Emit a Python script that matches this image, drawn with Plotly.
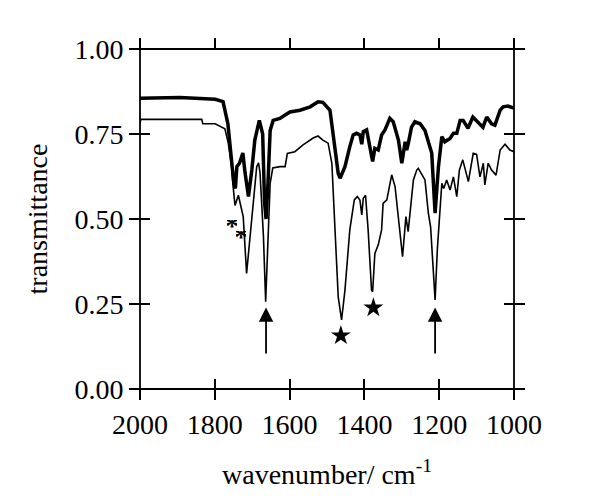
import plotly.graph_objects as go

# Thick (upper) spectrum
thick_wn = [2000, 1893, 1799, 1778, 1765, 1755, 1749, 1745, 1741, 1734, 1725, 1719, 1710,
            1701, 1693, 1681, 1672, 1667, 1663, 1658, 1652, 1644, 1626, 1612, 1599, 1572,
            1545, 1524, 1511, 1492, 1481, 1470, 1465, 1452, 1439, 1430, 1421, 1412, 1407,
            1403, 1394, 1385, 1378, 1372, 1363, 1354, 1345, 1332, 1323, 1309, 1300, 1291,
            1287, 1283, 1274, 1265, 1251, 1238, 1226, 1220, 1211, 1202, 1193, 1185, 1171,
            1162, 1153, 1144, 1136, 1123, 1110, 1096, 1083, 1073, 1060, 1051, 1037, 1029,
            1016, 1000]
thick_T = [0.855, 0.857, 0.852, 0.845, 0.78, 0.683, 0.605, 0.59, 0.654, 0.664, 0.694, 0.635,
           0.566, 0.644, 0.732, 0.79, 0.75, 0.55, 0.50, 0.60, 0.76, 0.79, 0.796, 0.806, 0.815,
           0.82, 0.83, 0.845, 0.843, 0.82, 0.732, 0.634, 0.62, 0.654, 0.713, 0.747, 0.752,
           0.747, 0.72, 0.757, 0.762, 0.713, 0.669, 0.708, 0.703, 0.747, 0.762, 0.796, 0.786,
           0.732, 0.664, 0.727, 0.703, 0.72, 0.77, 0.786, 0.78, 0.76, 0.713, 0.694, 0.517,
           0.654, 0.742, 0.727, 0.737, 0.752, 0.752, 0.79, 0.79, 0.767, 0.80, 0.786, 0.77,
           0.80, 0.78, 0.776, 0.82, 0.83, 0.832, 0.826]

# Thin (lower) spectrum
thin_wn = [2000, 1998, 1835, 1832, 1799, 1786, 1773, 1764, 1755, 1751, 1746, 1737, 1730,
           1724, 1715, 1701, 1693, 1688, 1683, 1679, 1670, 1664, 1657, 1652, 1645, 1626,
           1612, 1606, 1586, 1564, 1537, 1524, 1511, 1497, 1487, 1479, 1470, 1461, 1452,
           1439, 1427, 1419, 1412, 1407, 1403, 1397, 1390, 1381, 1378, 1372, 1363, 1354,
           1350, 1340, 1327, 1318, 1305, 1298, 1289, 1283, 1269, 1260, 1256, 1247, 1238,
           1229, 1223, 1211, 1205, 1193, 1188, 1180, 1171, 1162, 1153, 1146, 1137, 1122,
           1109, 1100, 1091, 1082, 1078, 1069, 1060, 1048, 1037, 1024, 1011, 1000]
thin_T = [0.78, 0.793, 0.793, 0.78, 0.78, 0.773, 0.765, 0.723, 0.654, 0.595, 0.54, 0.57,
          0.53, 0.507, 0.34, 0.517, 0.595, 0.654, 0.665, 0.635, 0.45, 0.257, 0.488, 0.605,
          0.65, 0.654, 0.654, 0.693, 0.698, 0.718, 0.738, 0.744, 0.732, 0.723, 0.664, 0.487,
          0.271, 0.203, 0.291, 0.468, 0.556, 0.566, 0.556, 0.512, 0.561, 0.57, 0.468, 0.291,
          0.286, 0.399, 0.424, 0.468, 0.546, 0.556, 0.63, 0.595, 0.468, 0.389, 0.507, 0.463,
          0.615, 0.644, 0.649, 0.63, 0.615, 0.517, 0.477, 0.262, 0.41, 0.605, 0.59, 0.615,
          0.585, 0.624, 0.566, 0.644, 0.674, 0.61, 0.693, 0.69, 0.624, 0.664, 0.60, 0.664,
          0.644, 0.629, 0.703, 0.72, 0.703, 0.698]

# Annotation markers
star_wn = [1463, 1376]
star_T = [0.157, 0.239]
asterisk_wn = [1754, 1731]
asterisk_T = [0.485, 0.451]
arrow_wn = [1663, 1211]
arrow_head_T = 0.24
arrow_tail_T = 0.10

x_ticks = [2000, 1800, 1600, 1400, 1200, 1000]
y_ticks = [0.0, 0.25, 0.5, 0.75, 1.0]

FONT = "Liberation Serif"

fig = go.Figure()
fig.add_trace(go.Scatter(x=thick_wn, y=thick_T, mode="lines",
                         line=dict(color="black", width=3.5), showlegend=False))
fig.add_trace(go.Scatter(x=thin_wn, y=thin_T, mode="lines",
                         line=dict(color="black", width=1.6), showlegend=False))
fig.add_trace(go.Scatter(x=star_wn, y=star_T, mode="markers",
                         marker=dict(symbol="star", size=15, color="black"),
                         showlegend=False))
# dummy trace for overlay axes (inner ticks)
fig.add_trace(go.Scatter(x=[], y=[], xaxis="x2", yaxis="y2", showlegend=False))

for wx, wy in zip(asterisk_wn, asterisk_T):
    fig.add_annotation(x=wx, y=wy, text="<b>*</b>", showarrow=False, yshift=-1,
                       width=10, height=11,
                       font=dict(family=FONT, size=27, color="black"))
for wx in arrow_wn:
    fig.add_annotation(x=wx, y=arrow_head_T, ax=wx, ay=arrow_tail_T,
                       axref="x", ayref="y", text="", showarrow=True,
                       arrowhead=2, arrowsize=1.6, arrowwidth=1.8, arrowcolor="black")

# extended frame lines (crossing corners)
ex, ey = 10 / 374, 10 / 340
frame = [
    dict(x0=-ex, x1=1 + ex, y0=0, y1=0),
    dict(x0=-ex, x1=1 + ex, y0=1, y1=1),
    dict(x0=0, x1=0, y0=-ey, y1=1 + ey),
    dict(x0=1, x1=1, y0=-ey, y1=1 + ey),
]
for f in frame:
    fig.add_shape(type="line", xref="paper", yref="paper",
                  line=dict(color="black", width=1.8), **f)

tickfont = dict(family=FONT, size=28, color="black")
fig.update_layout(
    width=592, height=495, autosize=False,
    margin=dict(l=132, r=86, t=41, b=114),
    paper_bgcolor="white", plot_bgcolor="white",
    font=dict(family=FONT, color="black"),
    xaxis=dict(range=[2000, 1000], tickvals=x_ticks, ticks="outside", ticklen=10,
               tickwidth=1.6, tickcolor="black", showline=False, mirror="ticks",
               showgrid=False, zeroline=False, tickfont=tickfont,
               title=dict(text="wavenumber/ cm<sup>-1</sup>",
                          font=dict(family=FONT, size=28, color="black"), standoff=25)),
    yaxis=dict(range=[0, 1], tickvals=y_ticks, tickformat=".2f", ticks="outside",
               ticklen=10, tickwidth=1.6, tickcolor="black", showline=False,
               mirror="ticks", showgrid=False, zeroline=False, tickfont=tickfont,
               title=dict(text="transmittance",
                          font=dict(family=FONT, size=28, color="black"), standoff=18)),
    xaxis2=dict(range=[2000, 1000], tickvals=x_ticks, ticks="inside", ticklen=10,
                tickwidth=1.6, tickcolor="black", showticklabels=False, showgrid=False,
                zeroline=False, overlaying="x", anchor="y2", side="bottom"),
    yaxis2=dict(range=[0, 1], tickvals=y_ticks, ticks="inside", ticklen=10,
                tickwidth=1.6, tickcolor="black", showticklabels=False, showgrid=False,
                zeroline=False, overlaying="y", anchor="x2", side="left", mirror="ticks"),
)

fig.write_html("out.html")
